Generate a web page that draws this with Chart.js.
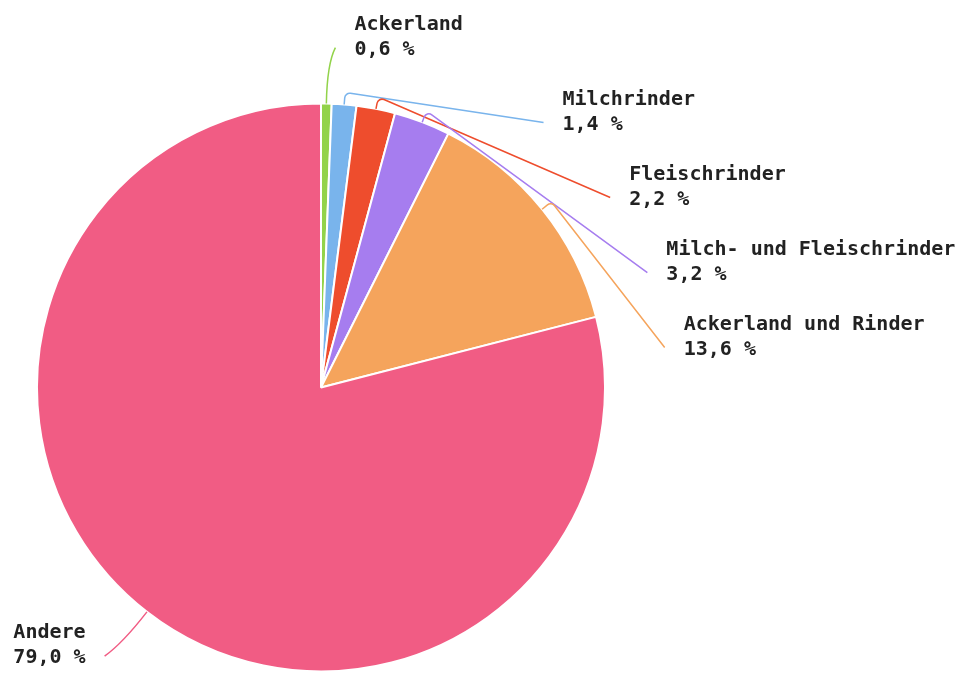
<!DOCTYPE html>
<html>
<head>
<meta charset="utf-8">
<script src="https://cdn.jsdelivr.net/npm/chart.js@4"></script>
<style>
  html, body { margin: 0; padding: 0; background: #fff; }
  canvas { display: block; }
</style>
</head>
<body>
<canvas id="pie" width="961" height="673"></canvas>
<script>
var labels = ["Ackerland", "Milchrinder", "Fleischrinder", "Milch- und Fleischrinder", "Ackerland und Rinder", "Andere"];
var shares = [0.6, 1.4, 2.2, 3.2, 13.6, 79.0];
var colors = ["#92d34a", "#79b4ec", "#ee4d2d", "#a67def", "#f5a45c", "#f15c84"];

// labels outside the pie with bent leader lines
var outLabels = {
    id: "outLabels",
    afterDraw: function(chart){
        var ctx = chart.ctx;
        var arcs = chart.getDatasetMeta(0).data;
        var items = arcs.map(function(arc, i){
            var p = arc.getProps(["x", "y", "startAngle", "endAngle", "outerRadius"], true);
            var mid = (p.startAngle + p.endAngle) / 2;
            var dx = Math.cos(mid), dy = Math.sin(mid);
            return {
                i: i, cx: p.x, cy: p.y, r: p.outerRadius, dx: dx, dy: dy,
                right: dx >= 0,
                x: p.x + dx * (p.outerRadius + 56) + (dx >= 0 ? 8 : -8),
                y: p.y + dy * (p.outerRadius + 56),
                moved: false
            };
        });
        [true, false].forEach(function(side){
            var list = items.filter(it => it.right == side).sort((a, b) => a.y - b.y);
            var prev = -Infinity;
            list.forEach(function(it){
                if (it.y < prev + 75) { it.y = prev + 75; it.moved = true; }
                prev = it.y;
                if (it.moved) {
                    var R = it.r + 62;
                    var h = Math.sqrt(Math.max(R*R - (it.y - it.cy)**2, 0));
                    it.x = it.cx + (side ? h : -h);
                }
            });
        });
        ctx.save();
        items.forEach(function(it){
            var c = colors[it.i];
            var x0 = it.cx + it.dx * it.r, y0 = it.cy + it.dy * it.r;
            var ext = it.moved ? 12 : 40;
            var x1 = it.cx + it.dx * (it.r + ext), y1 = it.cy + it.dy * (it.r + ext);
            ctx.strokeStyle = c;
            ctx.lineWidth = 1.5;
            ctx.beginPath();
            ctx.moveTo(x0, y0);
            if (it.moved) {
                ctx.arcTo(x1, y1, it.x, it.y, 5);
                ctx.lineTo(it.x, it.y);
            } else {
                ctx.quadraticCurveTo(x1, y1, it.x, it.y);
            }
            ctx.stroke();

            ctx.fillStyle = "#222";
            ctx.font = "bold 20px 'DejaVu Sans Mono'";
            ctx.textAlign = it.right ? "left" : "right";
            ctx.textBaseline = "alphabetic";
            var tx = it.right ? it.x + 19 : it.x - 19;
            ctx.fillText(labels[it.i], tx, it.y - 18);
            ctx.fillText(shares[it.i].toFixed(1).replace(".", ",") + " %", tx, it.y + 7);
        });
        ctx.restore();
    }
};

new Chart("pie", {
    type: "pie",
    data: {
        labels: labels,
        datasets: [{
            data: shares,
            backgroundColor: colors,
            borderColor: "#fff",
            borderWidth: 2
        }]
    },
    options: {
        responsive: false,
        animation: false,
        layout: { padding: { left: 36, right: 355, top: 102, bottom: 0 } },
        plugins: {
            legend: { display: false },
            tooltip: { enabled: false }
        }
    },
    plugins: [outLabels]
});
</script>
</body>
</html>
